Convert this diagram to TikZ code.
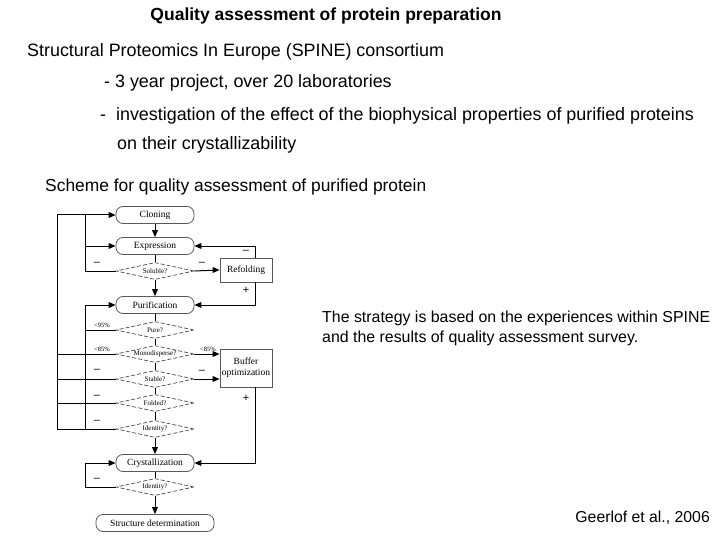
\documentclass[tikz,border=0pt]{standalone}
\usepackage{fontspec}
\setmainfont{Liberation Sans}
\newfontfamily\tms{Liberation Serif}
\usetikzlibrary{shapes.geometric}
\begin{document}
\begin{tikzpicture}[x=1pt,y=-1pt,
  txt/.style={anchor=base west,inner sep=0pt,font=\fontsize{17.9}{20}\selectfont},
  proc/.style={draw=black!65,line width=0.8pt,rounded corners=7pt,minimum width=78pt,minimum height=17pt,inner sep=0pt,font=\tms\fontsize{9.5}{10}\selectfont},
  dec/.style={draw=black!70,line width=0.7pt,dash pattern=on 4pt off 2pt,diamond,aspect=4.8,minimum width=78pt,minimum height=17pt,inner sep=0pt,font=\tms\fontsize{7}{8}\selectfont},
  sq/.style={draw=black!65,line width=0.8pt,minimum width=52pt,minimum height=24pt,inner sep=1pt,align=center,font=\tms\fontsize{9.5}{11}\selectfont},
  ar/.style={line width=1pt,shorten >=6pt,postaction={draw=none}},
  ln/.style={line width=1pt},
  hd/.style={fill=black},
  lab/.style={font=\tms\fontsize{6.5}{7}\selectfont,inner sep=1pt},
  sg/.style={font=\fontsize{11}{11}\selectfont,inner sep=1pt}]
% arrow heads drawn as filled triangles: \hdD{point} down, \hdR right-pointing, \hdL left-pointing
\def\hdD#1{\fill #1 -- ++(-3,-7) -- ++(6,0) -- cycle;}
\def\hdR#1{\fill #1 -- ++(-7,-3) -- ++(0,6) -- cycle;}
\def\hdL#1{\fill #1 -- ++(7,-3) -- ++(0,6) -- cycle;}
\useasboundingbox (0,0) rectangle (720,540);
\node[anchor=base,inner sep=0pt,font=\bfseries\fontsize{17.5}{20}\selectfont] (t) at (326,21) {Quality assessment of protein preparation};
\node[txt] (l1) at (27,57) {Structural Proteomics In Europe (SPINE) consortium};
\node[txt] (l2) at (104,88) {- 3 year project, over 20 laboratories};
\node[txt] (l3) at (100,121) {-\ \ investigation of the effect of the biophysical properties of purified proteins};
\node[txt] (l4) at (117,150) {on their crystallizability};
\node[txt,font=\fontsize{17.4}{20}\selectfont] (l5) at (45,192) {Scheme for quality assessment of purified protein};
\node[anchor=base west,inner sep=0pt,font=\fontsize{15.9}{20}\selectfont] (r1) at (322,322) {The strategy is based on the experiences within SPINE};
\node[anchor=base west,inner sep=0pt,font=\fontsize{15.9}{20}\selectfont] (r2) at (322,342) {and the results of quality assessment survey.};
\node[anchor=base east,inner sep=0pt,font=\fontsize{15.8}{18}\selectfont] (g) at (710,522) {Geerlof et al., 2006};

\node[proc] (clo) at (155,215) {Cloning};
\node[proc] (exp) at (155,246) {Expression};
\node[dec] (sol) at (155,271) {Soluble?};
\node[sq] (ref) at (246,270) {Refolding};
\node[proc] (pur) at (155,305) {Purification};
\node[dec] (pu) at (155,330) {Pure?};
\node[dec] (mon) at (155,354) {Monodisperse?};
\node[sq,minimum height=38pt] (buf) at (246,368) {Buffer\\optimization};
\node[dec] (sta) at (155,379) {Stable?};
\node[dec] (fol) at (155,403) {Folded?};
\node[dec] (id1) at (155,429) {Identity?};
\node[proc] (cry) at (155,463) {Crystallization};
\node[dec] (id2) at (155,487) {Identity?};
\node[proc,minimum width=118pt] (str) at (155,523) {Structure determination};

\coordinate (o1) at (57,215);
\coordinate (o2) at (57,429);
\coordinate (i1) at (85,215);
\coordinate (i2) at (85,271);
\coordinate (j1) at (85,305);
\coordinate (j2) at (85,429);
\coordinate (c1) at (85,463);
\coordinate (c2) at (85,487);
\coordinate (rt) at (255,246);
\coordinate (rb) at (255,305);
\coordinate (bb) at (255,463);

\draw[ar] (clo) -- (exp); \hdD{(exp.north)}
\draw[ar] (sol) -- (pur); \hdD{(pur.north)}
\draw[ar] (id1) -- (cry); \hdD{(cry.north)}
\draw[ar] (id2) -- (str); \hdD{(str.north)}
\draw[ln] (exp.south) -- (sol.north);
\draw[ln] (pur.south) -- (pu.north);
\draw[ln] (pu.south) -- (mon.north);
\draw[ln] (mon.south) -- (sta.north);
\draw[ln] (sta.south) -- (fol.north);
\draw[ln] (fol.south) -- (id1.north);
\draw[ln] (cry.south) -- (id2.north);
\draw[ar] (o1) -- (clo.west); \hdR{(clo.west)}
\draw[ln] (o1) -- (o2);
\draw[ln] (i2) -- (i1);
\draw[ar] (i1 |- exp) -- (exp.west); \hdR{(exp.west)}
\draw[ln] (sol.west) -- (i2);
\node[sg] at (97,264) {--};
\draw[ar] (j1) -- (pur.west); \hdR{(pur.west)}
\draw[ln] (j1) -- (j2);
\draw[ln] (pu.west) -- (pu.west -| j1);
\node[lab] at (102,325) {<95\%};
\draw[ln] (mon.west) -- (mon.west -| o1);
\node[lab] at (102,349) {<85\%};
\draw[ln] (sta.west) -- (sta.west -| o1);
\node[sg] at (97,371) {--};
\draw[ln] (fol.west) -- (fol.west -| o1);
\node[sg] at (97,397) {--};
\draw[ln] (id1.west) -- (o2);
\node[sg] at (97,422) {--};
\draw[ar] (id2.west) -- (c2) -- (c1) -- (cry.west); \hdR{(cry.west)}
\node[sg] at (97,480) {--};
\draw[ar] (sol.east) -- (ref.west); \hdR{(ref.west)}
\node[sg] at (202,264) {--};
\draw[ar] (ref.north -| rt) -- (rt) -- (exp.east); \hdL{(exp.east)}
\node[sg] at (246,252) {--};
\draw[ar] (ref.south -| rb) -- (rb) -- (pur.east); \hdL{(pur.east)}
\node[sg] at (246,290) {+};
\draw[ar] (mon.east) -- (mon.east -| buf.west); \hdR{(mon.east -| buf.west)}
\node[lab] at (208,349) {<85\%};
\draw[ar] (sta.east) -- (sta.east -| buf.west); \hdR{(sta.east -| buf.west)}
\node[sg] at (202,372) {--};
\draw[ar] (buf.south -| bb) -- (bb) -- (cry.east); \hdL{(cry.east)}
\node[sg] at (246,398) {+};
\end{tikzpicture}
\end{document}
